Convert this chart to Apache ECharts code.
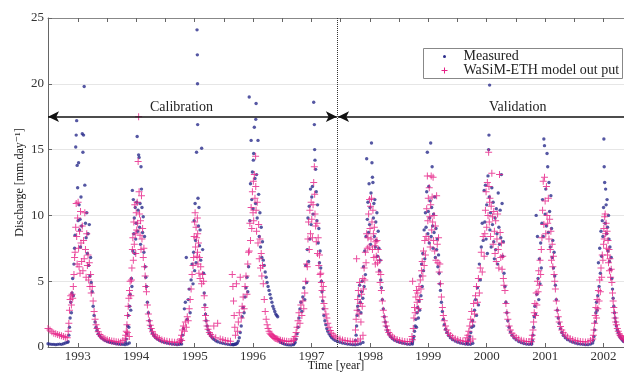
<!DOCTYPE html>
<html>
<head>
<meta charset="utf-8">
<script src="https://cdn.jsdelivr.net/npm/echarts@6/dist/echarts.min.js"></script>
<style>
  html, body { margin: 0; padding: 0; background: #fff; }
  #chart { width: 624px; height: 372px; }
</style>
</head>
<body>
<div id="chart"></div>
<script>
// days relative to 1 January of each season's year, shared by both series
const days1993 = [-186,-174,-162,-150,-138,-126,-114,-102,-90,-78,-66,
  -60,-56,-52,-48,-44,-40,-36,-32,-28,-24,-20,
  -17,-13,-10,-7,-4,-1,2,5,8,11,14,17,20,24,28,32,36,40,44,48,52,56,60,64,68,72,76,80,84,
  90,96,102,108,114,120,128,136,146,158,170,184,198,212,226,240,254,268,282,296,310,322];
const measured1993 = [0.25,0.22,0.2,0.2,0.18,0.2,0.22,0.2,0.25,0.3,0.35,
  0.4,0.9,1.5,2.2,3.4,2.6,4.1,5.2,3.9,6.3,7.5,
  8.5,15.2,16.1,17.2,13.8,12.1,9.6,14.0,10.8,8.9,9.7,7.6,11.4,9.2,16.2,14.8,16.1,19.8,12.3,9.4,8.3,10.2,7.1,8.6,6.2,9.3,5.4,6.8,4.9,
  4.2,3.1,2.4,1.9,1.5,1.25,1.0,0.85,0.7,0.6,0.5,0.42,0.36,0.32,0.28,0.25,0.22,0.2,0.2,0.18,0.22,0.3];
const wasim1993 = [1.4,1.3,1.15,1.05,1.0,0.95,0.9,0.85,0.8,0.75,0.7,
  1.2,1.8,2.8,3.6,3.9,3.2,4.0,3.7,4.6,5.5,6.8,
  7.2,9.1,10.9,8.4,6.3,9.8,11.0,7.5,6.1,8.8,5.6,10.3,7.9,6.5,9.2,5.8,8.1,6.7,10.2,7.4,5.3,8.6,6.2,7.0,5.1,6.4,4.6,5.5,4.1,
  4.6,3.5,2.7,2.1,1.7,1.4,1.15,0.95,0.82,0.7,0.62,0.55,0.5,0.46,0.43,0.4,0.38,0.36,0.5,0.6,1.1,0.8];

const days1994 = [-66,-62,-58,-54,-50,-46,-42,-38,-34,
  -30,-27,-24,-21,-18,-15,-12,-9,-6,-3,0,3,6,9,12,15,18,21,24,27,30,33,36,40,44,48,52,56,60,
  64,70,76,82,88,94,102,110,120,132,146,160,176,192,208,224,240,256,270,284];
const measured1994 = [0.35,0.6,1.0,1.6,2.4,1.5,3.1,4.0,2.8,
  5.2,4.6,11.9,7.3,11.2,8.6,9.8,7.1,10.6,8.2,9.4,11.0,16.0,8.8,10.4,14.6,14.4,9.1,10.9,7.8,13.7,12.0,10.6,8.7,9.9,7.2,8.4,6.1,5.3,
  4.6,3.4,2.6,2.0,1.6,1.3,1.05,0.88,0.72,0.6,0.5,0.42,0.35,0.3,0.26,0.22,0.2,0.18,0.2,0.22];
const wasim1994 = [0.9,1.2,1.7,2.4,3.1,3.7,4.3,5.0,3.9,
  5.1,6.0,7.4,8.3,6.6,9.5,7.8,10.8,8.6,7.1,10.2,8.9,11.0,9.4,14.1,17.5,11.8,10.1,8.5,9.6,7.4,11.5,8.2,9.0,6.8,7.5,6.1,5.4,4.6,
  4.2,3.2,2.5,2.0,1.65,1.4,1.15,0.97,0.83,0.72,0.62,0.54,0.48,0.43,0.4,0.38,0.36,0.35,0.4,0.5];

const days1995 = [-88,-82,-76,-70,-64,-58,-52,-46,-40,-34,-28,-22,-16,-10,
  -6,-3,0,3,6,9,12,15,17,18,19,21,24,27,30,34,38,44,50,
  56,60,64,68,72,78,84,92,100,110,120,132,144,160,176,192,208,224];
const measured1995 = [0.3,0.5,0.9,1.4,2.9,3.4,6.8,2.1,3.6,4.4,2.6,5.1,6.3,4.8,
  7.2,9.6,5.8,10.9,8.1,6.4,14.8,24.1,22.2,20.0,16.9,11.3,9.2,10.6,7.7,8.9,6.6,15.1,7.4,
  5.6,4.1,3.2,2.5,2.0,1.6,1.3,1.05,0.85,0.7,0.58,0.48,0.4,0.33,0.28,0.24,0.2,0.18];
const wasim1995 = [0.6,0.9,1.3,1.6,1.2,1.9,1.5,2.3,2.0,2.9,3.6,4.4,5.5,6.2,
  6.8,8.4,9.5,10.2,7.6,9.1,8.3,6.9,9.8,7.2,8.6,6.3,7.9,5.6,6.8,5.2,6.1,4.8,5.5,
  5.0,3.9,3.0,2.4,2.0,1.6,1.35,1.1,0.95,0.82,1.6,0.7,1.8,0.6,0.55,0.5,0.46,0.44];

const days1996 = [-130,-126,-122,-118,-114,-110,-104,-98,-92,-86,-80,
  -74,-68,-62,-56,-50,-44,-38,-33,-28,
  -24,-20,-16,-12,-8,-4,0,2,4,8,12,16,17,19,22,26,31,35,39,43,47,51,55,59,
  64,70,76,82,88,94,100,106,112,118,124,130,136,142,148,154,162,172,184,196,210,224,238,252];
const measured1996 = [0.18,0.2,0.17,0.2,0.22,0.2,0.25,0.3,0.45,0.7,1.1,
  1.6,2.3,3.0,2.6,3.8,4.5,5.3,4.2,6.1,
  19.0,9.6,12.4,15.7,11.2,13.3,10.5,14.2,14.7,16.7,12.8,10.9,17.3,18.5,13.1,9.8,15.7,11.6,8.4,10.2,7.6,9.1,6.8,8.0,
  6.6,6.2,5.7,5.3,4.9,4.6,4.3,4.0,3.7,3.4,3.1,2.9,2.7,2.5,2.4,2.3,0.5,0.35,0.28,0.22,0.18,0.16,0.15,0.18];
const wasim1996 = [5.5,4.6,3.5,2.4,1.5,0.9,4.8,1.2,1.9,2.6,5.3,
  2.2,3.1,3.8,2.9,4.6,5.4,4.0,6.3,7.2,
  7.3,9.4,8.1,10.6,9.0,11.8,10.2,12.6,9.6,13.1,11.3,14.5,12.2,10.4,8.8,11.0,7.9,9.3,6.7,8.2,6.0,7.1,5.4,6.2,
  4.8,3.6,2.7,2.1,1.7,1.4,1.2,1.05,0.95,0.87,0.8,0.74,0.69,0.65,0.62,0.59,0.55,0.52,0.48,0.45,0.43,0.42,0.44,0.5];

const days1997 = [-108,-102,-96,-90,-84,-78,-72,-66,-60,-54,-48,-42,-36,-30,
  -26,-22,-18,-14,-10,-6,-2,2,6,10,14,18,20,22,26,30,34,38,42,46,50,54,
  58,62,66,70,74,78,84,90,96,102,110,118,126,136,148,162,178,194,210,226,242,258,274,290,306,322];
const measured1997 = [0.25,0.35,0.6,1.0,1.5,2.2,2.9,3.4,2.7,3.8,4.5,3.6,6.2,4.9,
  7.4,9.8,6.5,10.7,8.2,12.0,9.3,11.4,12.2,10.1,18.6,16.9,15.0,14.2,13.5,11.8,9.6,10.8,7.9,9.0,6.4,7.3,
  6.0,5.0,4.2,3.5,2.9,2.4,2.0,1.7,1.4,1.2,1.0,0.85,0.72,0.6,0.5,0.42,0.36,0.3,0.26,0.22,0.2,0.18,0.17,0.2,0.25,0.35];
const wasim1997 = [0.6,0.8,1.1,1.5,2.0,2.6,1.8,3.2,2.4,3.5,2.9,4.1,5.0,6.3,
  6.1,8.2,9.5,7.4,10.4,8.6,11.0,9.7,8.3,10.8,12.5,13.7,11.6,10.1,9.2,8.0,9.4,7.1,8.3,6.2,7.0,5.5,
  5.6,4.9,4.3,3.8,4.6,3.3,2.9,2.5,2.2,1.8,1.5,1.25,1.05,0.9,0.78,0.68,0.6,0.54,0.5,0.46,0.43,0.4,0.4,0.45,0.6,0.9];

const days1998 = [-90,-86,-83,-80,-76,-72,-68,-64,-60,-56,-52,-48,-44,-40,-36,-32,-28,-24,-20,-16,
  -12,-8,-5,-2,1,4,7,10,13,16,19,22,25,28,31,34,37,40,44,48,52,56,60,64,68,
  72,78,84,90,96,102,110,118,128,140,154,170,186,202,218,234,250,266];
const measured1998 = [0.5,0.9,1.6,2.4,3.1,2.8,3.9,4.7,3.4,2.6,4.2,5.0,3.7,6.1,4.6,7.3,5.5,8.4,14.3,9.7,
  11.0,8.7,12.4,9.3,10.6,7.8,11.7,15.5,14.0,12.9,12.5,9.8,10.9,8.4,11.2,7.6,9.5,8.1,10.2,6.9,8.8,7.5,5.8,6.6,5.1,
  4.5,3.6,2.9,2.3,1.9,1.55,1.25,1.0,0.8,0.65,0.52,0.42,0.35,0.3,0.26,0.22,0.2,0.22];
const wasim1998 = [1.3,2.1,6.7,2.8,3.6,4.3,2.5,4.9,3.3,1.9,4.0,3.1,5.2,4.4,6.0,5.1,7.2,6.4,8.6,7.5,
  8.3,10.1,7.6,11.2,9.0,10.7,8.2,11.3,9.5,7.4,10.4,8.6,6.8,9.1,7.7,6.3,8.0,6.9,8.1,6.4,7.4,5.7,6.6,4.9,5.5,
  4.3,3.5,2.8,2.3,1.9,1.6,1.3,1.1,0.92,0.78,0.66,0.57,0.5,0.45,0.42,0.4,0.42,0.55];

const days1999 = [-102,-98,-94,-90,-86,-82,-78,-74,-70,-66,-62,-58,-54,-50,-46,-42,-38,-34,-30,-26,-22,-18,
  -14,-10,-6,-3,0,3,6,9,12,15,18,21,24,27,30,33,36,40,44,48,52,56,60,64,68,72,
  76,82,88,94,100,108,116,126,138,152,168,184,200,216,232,248,264,278];
const measured1999 = [0.3,0.4,0.6,0.8,1.2,1.6,2.1,1.5,2.6,3.0,2.2,3.5,2.8,5.4,3.9,6.3,4.6,7.1,5.8,8.9,6.7,10.2,
  9.1,11.8,14.8,8.6,10.3,12.2,7.9,9.8,11.1,15.5,8.4,10.6,13.7,9.2,7.5,10.1,8.7,11.4,6.8,9.0,7.4,8.2,6.1,7.0,5.6,4.8,
  4.3,3.4,2.7,2.1,1.7,1.35,1.1,0.88,0.7,0.56,0.45,0.37,0.3,0.26,0.22,0.2,0.2,0.28];
const wasim1999 = [0.8,5.0,1.4,2.2,3.0,2.6,3.8,4.3,3.4,4.1,2.9,4.6,3.6,5.1,4.4,5.8,6.5,5.4,7.3,6.2,8.1,7.0,
  8.4,10.5,13.0,9.6,11.3,8.2,12.1,9.9,7.6,10.8,13.0,8.9,11.4,9.5,12.9,8.1,10.0,7.3,9.2,6.6,11.5,7.8,6.4,8.3,5.7,6.3,
  4.8,3.8,3.0,2.4,2.0,1.6,1.3,1.05,0.88,0.74,0.63,0.55,0.5,0.46,0.42,0.4,0.45,0.6];

const days2000 = [-124,-118,-112,-106,-100,-94,-88,-82,-76,-70,-64,-58,-52,-46,-40,-34,-28,-22,-16,
  -12,-8,-4,0,4,8,12,14,16,18,20,24,28,32,36,40,44,48,52,56,60,64,68,72,76,80,84,88,92,96,100,104,108,
  114,120,126,132,140,148,158,170,184,200,216,232,248,264,280];
const measured2000 = [0.3,0.4,0.55,0.8,1.1,1.5,2.0,1.6,2.8,3.6,2.4,4.5,3.2,6.3,5.1,7.6,9.4,8.1,11.9,
  9.5,12.3,8.2,10.8,7.1,13.0,15.0,16.1,11.4,19.9,8.9,10.2,7.6,12.1,9.3,11.0,8.0,6.7,9.8,7.4,10.5,8.6,6.3,11.7,9.1,7.8,10.4,8.3,13.1,10.9,6.9,8.0,5.6,
  4.6,3.4,2.6,2.0,1.5,1.15,0.9,0.7,0.55,0.42,0.33,0.27,0.22,0.2,0.2];
const wasim2000 = [0.7,0.9,1.2,1.6,2.1,2.7,1.9,3.3,2.5,3.9,4.6,3.4,5.2,4.1,6.0,7.2,5.7,8.4,6.9,
  8.6,10.4,11.8,9.1,12.5,10.0,14.8,12.2,9.5,11.0,11.3,8.4,10.7,13.2,9.9,7.8,10.3,8.8,7.1,9.6,6.5,8.2,10.1,7.4,6.0,13.1,8.7,6.8,7.9,5.9,6.9,5.2,4.7,
  4.3,3.3,2.6,2.1,1.6,1.3,1.05,0.86,0.72,0.6,0.52,0.46,0.42,0.4,0.4];

const days2001 = [-84,-80,-76,-72,-68,-64,-60,-56,-52,-48,-44,-40,-36,-32,-28,-24,-20,
  -16,-12,-8,-4,0,4,8,12,16,20,24,28,32,36,40,44,48,52,56,60,
  64,70,76,82,88,96,104,114,126,140,156,172,188,204,220,236,252,268,284];
const measured2001 = [0.3,0.5,0.9,1.5,2.3,3.1,2.5,10.0,4.0,8.4,5.2,3.6,6.7,4.8,7.9,6.0,9.4,
  11.2,8.4,15.8,15.3,10.1,12.0,9.2,14.7,13.7,8.7,12.5,10.3,7.6,11.5,9.0,6.8,8.1,6.0,7.2,5.4,
  4.7,3.6,2.8,2.2,1.8,1.4,1.1,0.88,0.7,0.56,0.45,0.37,0.3,0.25,0.22,0.2,0.18,0.18,0.22];
const wasim2001 = [0.6,0.9,1.3,1.9,2.6,3.3,2.4,4.1,3.2,5.0,4.2,5.8,4.7,6.6,5.5,7.4,8.3,
  10.4,12.6,9.3,12.9,11.1,8.6,12.2,10.0,9.4,11.3,8.2,9.7,7.4,8.8,6.6,7.8,6.1,6.9,5.5,5.0,
  4.4,3.5,2.8,2.3,1.9,1.55,1.3,1.08,0.9,0.76,0.65,0.56,0.5,0.45,0.42,0.4,0.38,0.4,0.5];

const days2002 = [-68,-64,-60,-56,-52,-48,-44,-40,-36,-32,-28,-24,-20,-16,-12,-8,
  -4,0,2,4,7,10,13,16,19,22,25,28,31,34,37,40,44,48,
  52,56,60,64,68,72,76,80,86,92,98,104,110,116,122,126];
const measured2002 = [0.3,0.5,0.8,1.3,1.9,2.6,3.4,2.8,3.9,6.4,4.6,7.5,5.6,8.8,6.9,9.6,
  8.4,10.6,15.8,13.7,12.5,9.4,12.0,10.8,8.6,11.2,9.1,7.3,10.0,8.2,6.5,7.6,5.9,6.8,
  5.2,4.4,3.7,3.1,2.6,2.2,1.9,1.6,1.3,1.1,0.9,0.75,0.65,0.55,0.48,0.42];
const wasim2002 = [0.6,0.9,1.3,1.8,2.4,3.0,2.2,3.6,2.9,4.3,3.5,5.1,4.2,6.0,5.3,7.0,
  6.6,7.8,9.0,8.2,9.9,10.1,8.6,9.4,7.5,8.8,7.0,8.1,6.4,7.4,5.8,6.7,5.3,5.9,
  4.9,4.1,3.5,3.0,2.6,2.2,1.9,1.7,1.4,1.2,1.0,0.88,0.78,0.7,0.62,0.58];

const seasons = [
  [1993, days1993, measured1993, wasim1993],
  [1994, days1994, measured1994, wasim1994],
  [1995, days1995, measured1995, wasim1995],
  [1996, days1996, measured1996, wasim1996],
  [1997, days1997, measured1997, wasim1997],
  [1998, days1998, measured1998, wasim1998],
  [1999, days1999, measured1999, wasim1999],
  [2000, days2000, measured2000, wasim2000],
  [2001, days2001, measured2001, wasim2001],
  [2002, days2002, measured2002, wasim2002]
];

const yearTicks = [1993, 1994, 1995, 1996, 1997, 1998, 1999, 2000, 2001, 2002];
const yTicks = [0, 5, 10, 15, 20, 25];
const splitYear = 1997.445;   // end of calibration period
const arrowLevel = 17.5;
const xMin = 1992.49;
const xMax = 2002.35;

const measuredPts = [];
const wasimPts = [];
seasons.forEach(([year, days, obs, sim]) => {
  days.forEach((d, i) => {
    const t = year + d / 365.25;
    measuredPts.push([t, obs[i]]);
    wasimPts.push([t, sim[i]]);
  });
});

const serif = '"Liberation Serif", "DejaVu Serif", serif';
const navy = '#2b2d8c';
const pink = '#e61f86';
const plusPath = 'path://M3,0h1v3h3v1h-3v3h-1v-3h-3v-1h3z';
const topTicks = yearTicks.flatMap((y) => [y - 0.5, y]);

const chart = echarts.init(document.getElementById('chart'));

const option = {
  animation: false,
  backgroundColor: '#fff',
  grid: { left: 48, right: 0, top: 18, bottom: 25, containLabel: false, outerBoundsMode: 'none' },
  xAxis: [
    {
      type: 'value',
      position: 'bottom',
      min: xMin,
      max: xMax,
      name: 'Time [year]',
      nameLocation: 'middle',
      nameGap: 13,
      nameMoveOverlap: false,
      nameTextStyle: { fontFamily: serif, fontSize: 12, color: '#222' },
      axisLine: { show: true, onZero: false, lineStyle: { color: '#666', width: 1 } },
      axisTick: { show: true, inside: true, length: 4, customValues: yearTicks, lineStyle: { color: '#666' } },
      axisLabel: {
        customValues: yearTicks,
        formatter: (v) => String(Math.round(v)),
        fontFamily: serif,
        fontSize: 13,
        color: '#333',
        margin: 3
      },
      splitLine: { show: false }
    },
    {
      type: 'value',
      position: 'top',
      min: xMin,
      max: xMax,
      axisLine: { show: true, onZero: false, lineStyle: { color: '#888', width: 1 } },
      axisTick: { show: true, inside: true, length: 4, customValues: topTicks, lineStyle: { color: '#666' } },
      axisLabel: { show: false },
      splitLine: { show: false }
    }
  ],
  yAxis: {
    type: 'value',
    min: 0,
    max: 25,
    interval: 5,
    name: 'Discharge [mm.day⁻¹]',
    nameLocation: 'middle',
    nameGap: 22,
    nameMoveOverlap: false,
    nameTextStyle: { fontFamily: serif, fontSize: 12, color: '#222' },
    axisLine: { show: true, lineStyle: { color: '#666', width: 1 } },
    axisTick: { show: true, inside: true, length: 4, lineStyle: { color: '#666' } },
    axisLabel: {
      customValues: yTicks,
      fontFamily: serif,
      fontSize: 13,
      color: '#333',
      margin: 4
    },
    splitLine: { show: true, lineStyle: { color: '#e6e6e6', width: 1 } }
  },
  series: [
    {
      name: 'Measured',
      type: 'scatter',
      data: measuredPts,
      symbol: 'circle',
      symbolSize: 3.4,
      itemStyle: { color: navy },
      silent: true,
      z: 2
    },
    {
      name: 'WaSiM-ETH model out put',
      type: 'scatter',
      data: wasimPts,
      symbol: plusPath,
      symbolSize: 7,
      itemStyle: { color: pink, opacity: 0.8 },
      silent: true,
      z: 3
    },
    {
      // periods: calibration / validation arrows and the split line
      type: 'scatter',
      data: [],
      silent: true,
      z: 5,
      markLine: {
        silent: true,
        animation: false,
        symbol: 'none',
        label: { show: false },
        data: [
          [
            { coord: [xMin, arrowLevel], symbol: 'arrow', symbolSize: [8, 11] },
            { coord: [splitYear - 0.01, arrowLevel], symbol: 'arrow', symbolSize: [8, 11] }
          ],
          [
            { coord: [splitYear + 0.01, arrowLevel], symbol: 'arrow', symbolSize: [8, 11] },
            { coord: [xMax, arrowLevel], symbol: 'none' }
          ],
          {
            xAxis: splitYear,
            lineStyle: { type: 'dotted', color: '#333', width: 1 }
          }
        ],
        lineStyle: { color: '#111', width: 1.5, type: 'solid' }
      }
    }
  ],
  graphic: [
    {
      type: 'text',
      left: 150,
      top: 100,
      style: { text: 'Calibration', font: '14px ' + serif, fill: '#222' }
    },
    {
      type: 'text',
      left: 489,
      top: 100,
      style: { text: 'Validation', font: '14px ' + serif, fill: '#222' }
    },
    {
      type: 'group',
      left: 423,
      top: 48,
      children: [
        {
          type: 'rect',
          shape: { x: 0, y: 0, width: 199, height: 30 },
          style: { fill: '#fff', stroke: '#888', lineWidth: 1 }
        },
        {
          type: 'circle',
          shape: { cx: 21, cy: 8, r: 1.5 },
          style: { fill: navy }
        },
        {
          type: 'line',
          shape: { x1: 18, y1: 22, x2: 24, y2: 22 },
          style: { stroke: pink, lineWidth: 1 }
        },
        {
          type: 'line',
          shape: { x1: 21, y1: 19, x2: 21, y2: 25 },
          style: { stroke: pink, lineWidth: 1 }
        },
        {
          type: 'text',
          x: 40,
          y: 8,
          style: { text: 'Measured', font: '14px ' + serif, fill: '#222', verticalAlign: 'middle' }
        },
        {
          type: 'text',
          x: 40,
          y: 22,
          style: { text: 'WaSiM-ETH model out put', font: '14px ' + serif, fill: '#222', verticalAlign: 'middle' }
        }
      ]
    }
  ]
};

chart.setOption(option);
</script>
</body>
</html>
